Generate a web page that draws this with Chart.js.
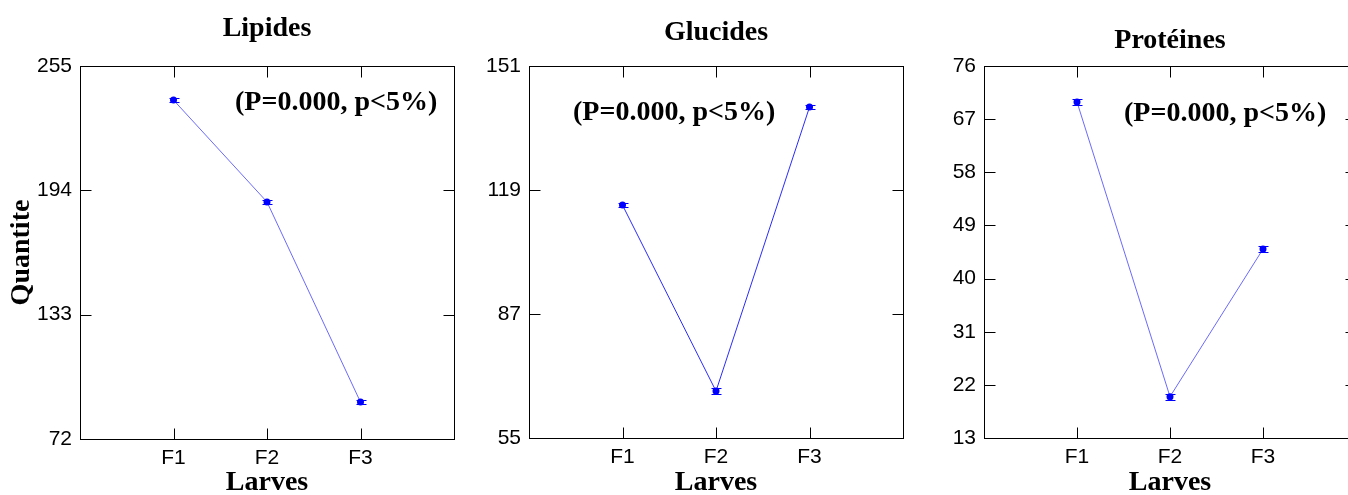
<!DOCTYPE html>
<html>
<head>
<meta charset="utf-8">
<script src="https://cdn.jsdelivr.net/npm/chart.js@4.4.0/dist/chart.umd.min.js"></script>
<style>
  html, body { margin: 0; padding: 0; background: #fff; overflow: hidden; }
  body { width: 1348px; height: 495px; position: relative; }
  canvas { position: absolute; top: 0; }
</style>
</head>
<body>
<canvas id="lip" width="460" height="495" style="left:0px"></canvas>
<canvas id="glu" width="450" height="495" style="left:460px"></canvas>
<canvas id="pro" width="452" height="495" style="left:910px"></canvas>
<script>
// moyennes par stade larvaire, avec erreur standard
const larves = ['F1', 'F2', 'F3'];

const lipides = [238.3, 188.3, 90.1];
const lipidesErr = [1.0, 1.2, 1.0];
const lipidesTicks = [72, 133, 194, 255];

const glucides = [115.1, 67.1, 140.4];
const glucidesErr = [0.6, 0.7, 0.6];
const glucidesTicks = [55, 87, 119, 151];

const proteines = [69.9, 20.0, 45.0];
const proteinesErr = [0.5, 0.5, 0.5];
const proteinesTicks = [13, 22, 31, 40, 49, 58, 67, 76];

const note = '(P=0.000, p<5%)';

Chart.defaults.font.family = '"Liberation Sans", Arial, sans-serif';
Chart.defaults.font.size = 21;
Chart.defaults.color = '#000';

// cadre noir, graduations vers l'intérieur, barres d'erreur et texte du test
const cadre = {
    id: 'cadre',
    afterDatasetsDraw(chart, args, opts) {
        const ctx = chart.ctx;
        const a = chart.chartArea;
        const x = chart.scales.x, y = chart.scales.y;
        ctx.save();
        ctx.strokeStyle = '#000';
        ctx.lineWidth = 1;
        const l = Math.round(a.left) + 0.5, r = Math.round(a.right) + 0.5;
        const t = Math.round(a.top) + 0.5, b = Math.round(a.bottom) + 0.5;
        ctx.strokeRect(l, t, r - l, b - t);
        ctx.beginPath();
        y.ticks.forEach(tk => {
            const py = Math.round(y.getPixelForValue(tk.value)) + 0.5;
            ctx.moveTo(l, py); ctx.lineTo(l + 11, py);
            ctx.moveTo(r, py); ctx.lineTo(r - 11, py);
        });
        x.ticks.forEach(tk => {
            const px = Math.round(x.getPixelForValue(tk.value)) + 0.5;
            ctx.moveTo(px, b); ctx.lineTo(px, b - 11);
            ctx.moveTo(px, t); ctx.lineTo(px, t + 11);
        });
        ctx.stroke();

        ctx.strokeStyle = '#0000ff';
        ctx.beginPath();
        chart.data.datasets[0].data.forEach((pt, i) => {
            const e = opts.err[i];
            const px = Math.round(x.getPixelForValue(pt.x)) + 0.5;
            const y1 = Math.round(y.getPixelForValue(pt.y + e)) + 0.5;
            const y2 = Math.round(y.getPixelForValue(pt.y - e)) + 0.5;
            ctx.moveTo(px, y1); ctx.lineTo(px, y2);
            ctx.moveTo(px - 5, y1); ctx.lineTo(px + 5, y1);
            ctx.moveTo(px - 5, y2); ctx.lineTo(px + 5, y2);
        });
        ctx.stroke();

        ctx.fillStyle = '#000';
        ctx.font = 'bold 28px "Liberation Serif", "Times New Roman", serif';
        ctx.textAlign = 'left';
        ctx.textBaseline = 'alphabetic';
        ctx.fillText(opts.note, a.left + opts.noteX, a.top + opts.noteY);
        ctx.restore();
    }
};

function panneau(id, p) {
    new Chart(document.getElementById(id), {
        type: 'line',
        data: {
            datasets: [{
                data: p.values.map((v, i) => ({ x: i + 1, y: v })),
                borderColor: p.lineColor,
                borderWidth: 1,
                pointRadius: 3.5,
                pointBackgroundColor: '#0000ff',
                pointBorderWidth: 0,
                tension: 0
            }]
        },
        options: {
            responsive: false,
            animation: false,
            devicePixelRatio: 1,
            layout: { padding: { left: 0, right: p.padRight, top: 0, bottom: 0 } },
            plugins: {
                legend: { display: false },
                tooltip: { enabled: false },
                title: {
                    display: true,
                    text: p.title,
                    fullSize: false,
                    font: { family: '"Liberation Serif", "Times New Roman", serif', size: 28, weight: 'bold', lineHeight: 1.2 },
                    padding: { top: p.titleTop, bottom: 66 - p.titleTop - 33.6 }
                },
                cadre: { err: p.err, note: note, noteX: p.noteX, noteY: p.noteY }
            },
            scales: {
                x: {
                    type: 'linear',
                    min: 0,
                    max: 4,
                    grid: { display: false, drawTicks: false },
                    border: { display: false },
                    afterBuildTicks: s => { s.ticks = larves.map((c, i) => ({ value: i + 1 })); },
                    afterFit: s => { s.height = p.axisBottom; },
                    ticks: { padding: 7, callback: v => larves[v - 1] },
                    title: {
                        display: true,
                        text: 'Larves',
                        font: { family: '"Liberation Serif", "Times New Roman", serif', size: 28, weight: 'bold', lineHeight: 0.9 },
                        padding: 0
                    }
                },
                y: {
                    min: p.ticks[0],
                    max: p.ticks[p.ticks.length - 1],
                    grid: { display: false, drawTicks: false },
                    border: { display: false },
                    afterBuildTicks: s => { s.ticks = p.ticks.map(v => ({ value: v })); },
                    afterFit: s => { s.width = p.axisLeft; },
                    ticks: { padding: 8 },
                    title: {
                        display: !!p.yTitle,
                        text: p.yTitle || '',
                        font: { family: '"Liberation Serif", "Times New Roman", serif', size: 28, weight: 'bold', lineHeight: 0.9 },
                        padding: { top: 9, bottom: 0 }
                    }
                }
            }
        },
        plugins: [cadre]
    });
}

panneau('lip', {
    title: 'Lipides', values: lipides, err: lipidesErr, ticks: lipidesTicks,
    lineColor: '#6a6aff', yTitle: 'Quantite',
    axisLeft: 80, padRight: 6, axisBottom: 56, titleTop: 12,
    noteX: 155, noteY: 44
});
panneau('glu', {
    title: 'Glucides', values: glucides, err: glucidesErr, ticks: glucidesTicks,
    lineColor: '#2a2aff',
    axisLeft: 69, padRight: 7, axisBottom: 57, titleTop: 16,
    noteX: 44, noteY: 54
});
panneau('pro', {
    title: 'Protéines', values: proteines, err: proteinesErr, ticks: proteinesTicks,
    lineColor: '#6a6aff',
    axisLeft: 74, padRight: 6, axisBottom: 57, titleTop: 24,
    noteX: 140, noteY: 55
});
</script>
</body>
</html>
